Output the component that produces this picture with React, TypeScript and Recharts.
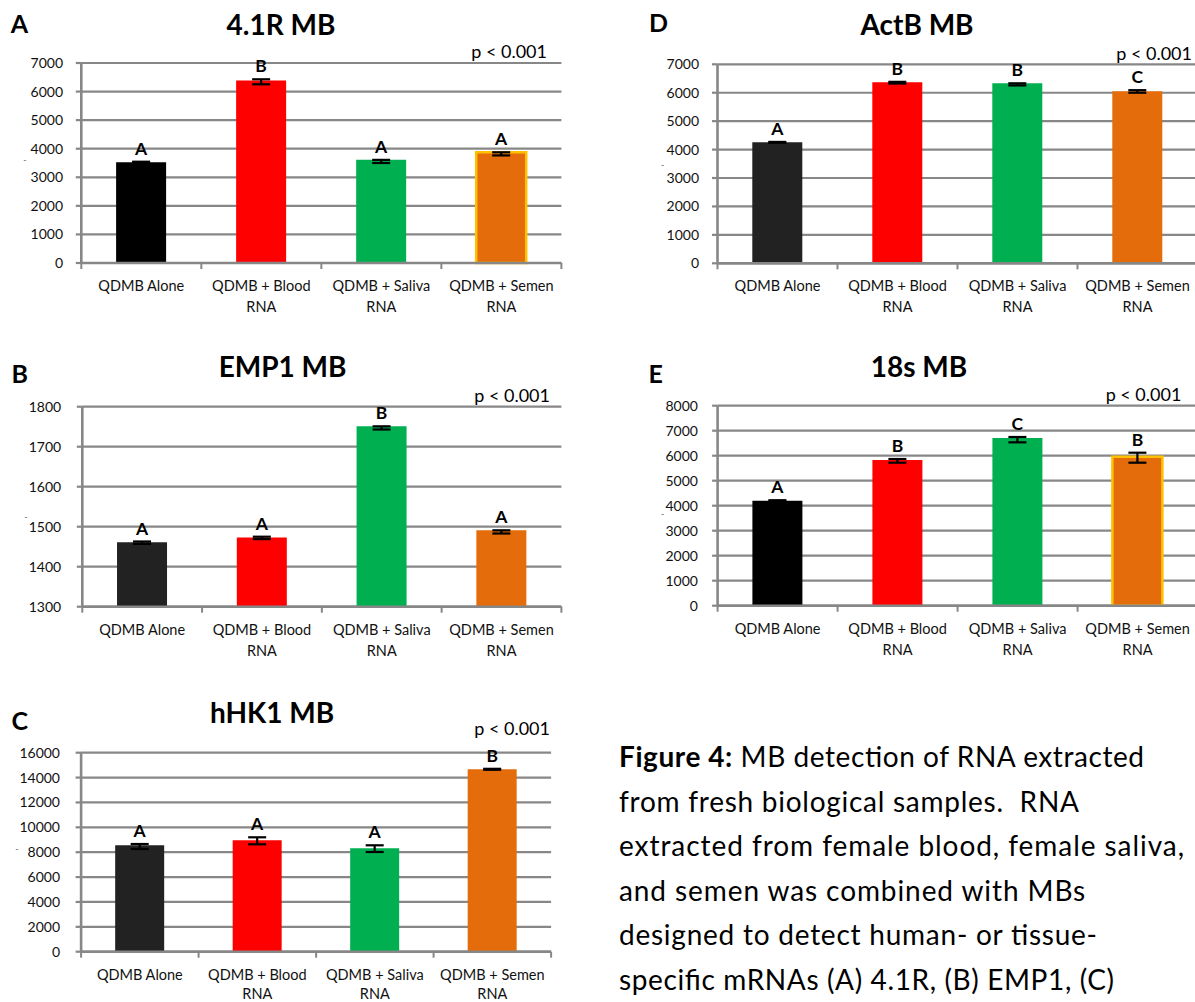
import React from 'react';
import { BarChart, Bar, XAxis, YAxis, CartesianGrid, Cell, ErrorBar, LabelList } from 'recharts';

const categories = ['QDMB Alone', 'QDMB + Blood RNA', 'QDMB + Saliva RNA', 'QDMB + Semen RNA'];

// Panel A: 4.1R MB
const r41Values = [3525, 6385, 3610, 3875];
const r41ErrLow = [20, 130, 110, 110];
const r41ErrHigh = [20, 45, 0, 0];
const r41Letters = ['A', 'B', 'A', 'A'];
const r41Ticks = [0, 1000, 2000, 3000, 4000, 5000, 6000, 7000];

// Panel B: EMP1 MB
const empValues = [1461, 1473, 1751, 1491];
const empErrLow = [4, 4, 8, 8];
const empErrHigh = [2, 2, 0, 0];
const empLetters = ['A', 'A', 'B', 'A'];
const empTicks = [1300, 1400, 1500, 1600, 1700, 1800];

// Panel C: hHK1 MB
const hk1Values = [8555, 8957, 8313, 14665];
const hk1ErrLow = [298, 322, 297, 40];
const hk1ErrHigh = [104, 241, 242, 40];
const hk1Letters = ['A', 'A', 'A', 'B'];
const hk1Ticks = [0, 2000, 4000, 6000, 8000, 10000, 12000, 14000, 16000];

// Panel D: ActB MB
const actbValues = [4255, 6368, 6332, 6050];
const actbErrLow = [15, 45, 75, 50];
const actbErrHigh = [15, 15, 0, 40];
const actbLetters = ['A', 'B', 'B', 'C'];
const actbTicks = [0, 1000, 2000, 3000, 4000, 5000, 6000, 7000];

// Panel E: 18s MB
const s18Values = [4200, 5828, 6708, 5960];
const s18ErrLow = [20, 108, 173, 240];
const s18ErrHigh = [20, 40, 40, 160];
const s18Letters = ['A', 'B', 'C', 'B'];
const s18Ticks = [0, 1000, 2000, 3000, 4000, 5000, 6000, 7000, 8000];

const pValueText = 'p < 0.001';

const FONT = "Lato, 'Open Sans', sans-serif";
const GRID = '#878787';
const RED = '#FF0000';
const GREEN = '#00B050';
const ORANGE = '#E46C0A';
const GOLD = '#FFC000';

type PanelCfg = {
  left: number; top: number; width: number; height: number;
  plotTop: number; plotBottom: number; yAxisWidth: number; plotRight: number;
  tickMargin: number; lineGap: number;
  values: number[]; errLow: number[]; errHigh: number[]; letters: string[];
  ticks: number[];
  fills: string[]; strokes: (string | null)[];
};

const splitLabel = (s: string): string[] => {
  const idx = s.indexOf(' RNA');
  if (idx < 0) return [s];
  return [s.slice(0, idx), 'RNA'];
};

const Panel = ({ cfg }: { cfg: PanelCfg }) => {
  const data = categories.map((c, i) => ({
    name: c,
    value: cfg.values[i],
    err: [cfg.errLow[i], cfg.errHigh[i]],
    letter: cfg.letters[i],
  }));
  const plotW = cfg.plotRight - cfg.yAxisWidth;
  const bw = plotW / categories.length;
  const plotH = cfg.plotBottom - cfg.plotTop;
  const dMin = cfg.ticks[0];
  const dMax = cfg.ticks[cfg.ticks.length - 1];
  const pxPerUnit = plotH / (dMax - dMin);

  const XTick = (props: any) => {
    const { x, y, payload, index } = props;
    const lines = splitLabel(String(payload.value));
    return (
      <g>
        <line x1={x - bw / 2} x2={x - bw / 2} y1={y} y2={y + 6} stroke={GRID} strokeWidth={2} />
        {index === categories.length - 1 && (
          <line x1={x + bw / 2} x2={x + bw / 2} y1={y} y2={y + 6} stroke={GRID} strokeWidth={2} />
        )}
        {lines.map((l, i) => (
          <text key={i} x={x} y={y + 28 + i * cfg.lineGap} textAnchor="middle" fontSize={14.5} fontFamily={FONT} fill="#111">
            {l}
          </text>
        ))}
      </g>
    );
  };

  const LetterLabel = (p: any) => {
    const { x, y, width, value, index } = p;
    const hiPx = cfg.errHigh[index] * pxPerUnit;
    return (
      <text x={x + width / 2} y={y - hiPx - 7} textAnchor="middle" fontSize={17.5} fontWeight="bold" fontFamily={FONT} fill="#000">
        {value}
      </text>
    );
  };

  return (
    <div style={{ position: 'absolute', left: cfg.left, top: cfg.top }}>
      <BarChart
        width={cfg.width}
        height={cfg.height}
        data={data}
        margin={{ top: cfg.plotTop, right: cfg.width - cfg.plotRight, left: 0, bottom: 0 }}
        barCategoryGap="29%"
        style={{ overflow: 'visible' }}
      >
        <CartesianGrid vertical={false} stroke={GRID} strokeWidth={2.2} />
        <XAxis
          dataKey="name"
          height={cfg.height - cfg.plotBottom}
          axisLine={{ stroke: GRID, strokeWidth: 2.6 }}
          tickLine={false}
          tickSize={0}
          tickMargin={0}
          interval={0}
          tick={<XTick />}
        />
        <YAxis
          width={cfg.yAxisWidth}
          domain={[dMin, dMax]}
          ticks={cfg.ticks}
          interval={0}
          axisLine={{ stroke: GRID, strokeWidth: 2.6 }}
          tickLine={{ stroke: GRID, strokeWidth: 2.2 }}
          tickSize={5.5}
          tickMargin={cfg.tickMargin}
          tick={{ fontSize: 14, fill: '#111', fontFamily: FONT }}
        />
        <Bar dataKey="value" isAnimationActive={false}>
          {data.map((d, i) => (
            <Cell
              key={i}
              fill={cfg.fills[i]}
              stroke={cfg.strokes[i] || 'none'}
              strokeWidth={cfg.strokes[i] ? 2.5 : 0}
            />
          ))}
          <ErrorBar dataKey="err" width={9} strokeWidth={2.2} stroke="#000" direction="y" />
          <LabelList dataKey="letter" content={<LetterLabel />} />
        </Bar>
      </BarChart>
    </div>
  );
};

const panelA: PanelCfg = {
  left: 0, top: 0, width: 565, height: 330,
  plotTop: 63, plotBottom: 263, yAxisWidth: 81.3, plotRight: 561.4, tickMargin: 12.8, lineGap: 21,
  values: r41Values, errLow: r41ErrLow, errHigh: r41ErrHigh, letters: r41Letters, ticks: r41Ticks,
  fills: ['#000000', RED, GREEN, ORANGE], strokes: [null, null, null, GOLD],
};
const panelB: PanelCfg = {
  left: 0, top: 340, width: 565, height: 330,
  plotTop: 66.7, plotBottom: 266.7, yAxisWidth: 82.3, plotRight: 561.4, tickMargin: 15.6, lineGap: 21,
  values: empValues, errLow: empErrLow, errHigh: empErrHigh, letters: empLetters, ticks: empTicks,
  fills: ['#222222', RED, GREEN, ORANGE], strokes: [null, null, null, null],
};
const panelC: PanelCfg = {
  left: 0, top: 690, width: 555, height: 312,
  plotTop: 62.7, plotBottom: 261.7, yAxisWidth: 81.1, plotRight: 551.1, tickMargin: 15.6, lineGap: 19,
  values: hk1Values, errLow: hk1ErrLow, errHigh: hk1ErrHigh, letters: hk1Letters, ticks: hk1Ticks,
  fills: ['#222222', RED, GREEN, ORANGE], strokes: [null, null, null, null],
};
const panelD: PanelCfg = {
  left: 600, top: 0, width: 600, height: 330,
  plotTop: 64.3, plotBottom: 263.3, yAxisWidth: 117.5, plotRight: 597.5, tickMargin: 13, lineGap: 21,
  values: actbValues, errLow: actbErrLow, errHigh: actbErrHigh, letters: actbLetters, ticks: actbTicks,
  fills: ['#222222', RED, GREEN, ORANGE], strokes: [null, null, null, null],
};
const panelE: PanelCfg = {
  left: 600, top: 340, width: 600, height: 330,
  plotTop: 65.7, plotBottom: 265.7, yAxisWidth: 117.6, plotRight: 597.6, tickMargin: 14.2, lineGap: 21,
  values: s18Values, errLow: s18ErrLow, errHigh: s18ErrHigh, letters: s18Letters, ticks: s18Ticks,
  fills: ['#000000', RED, GREEN, ORANGE], strokes: [null, null, null, GOLD],
};

const panelLetters = [
  { t: 'A', x: 10.7, y: 33 },
  { t: 'D', x: 649, y: 32 },
  { t: 'B', x: 11.5, y: 383 },
  { t: 'E', x: 648.6, y: 383 },
  { t: 'C', x: 11.5, y: 730 },
];
const titles = [
  { t: '4.1R MB', x: 281, y: 34.5 },
  { t: 'ActB MB', x: 917, y: 35 },
  { t: 'EMP1 MB', x: 282.6, y: 377 },
  { t: '18s MB', x: 919, y: 377 },
  { t: 'hHK1 MB', x: 272, y: 723 },
];
const pLabels = [
  { x: 547, y: 58 },
  { x: 1192, y: 60 },
  { x: 550, y: 401.5 },
  { x: 1181.4, y: 401 },
  { x: 550, y: 735 },
];
const dashes = [
  { x: 25, y: 163 },
  { x: 662.6, y: 168 },
  { x: 26, y: 520 },
  { x: 662.6, y: 517 },
  { x: 17, y: 852 },
];
const captionLead = 'Figure 4:';
const captionLines = [
  'MB detection of RNA extracted',
  'from fresh biological samples.  RNA',
  'extracted from female blood, female saliva,',
  'and semen was combined with MBs',
  'designed to detect human- or tissue-',
  'specific mRNAs (A) 4.1R, (B) EMP1, (C)',
];
const captionWidths = [525, 460, 565, 466, 478, 495];

export default function App() {
  return (
    <div style={{ position: 'absolute', left: 0, top: 0, width: 1195, height: 1002, overflow: 'hidden', background: '#fff' }}>
      <Panel cfg={panelA} />
      <Panel cfg={panelB} />
      <Panel cfg={panelC} />
      <Panel cfg={panelD} />
      <Panel cfg={panelE} />
      <svg width={1195} height={1002} style={{ position: 'absolute', left: 0, top: 0, pointerEvents: 'none' }}>
        {panelLetters.map((p, i) => (
          <text key={'l' + i} x={p.x} y={p.y} fontSize={25} fontWeight="bold" fontFamily={FONT} fill="#000">{p.t}</text>
        ))}
        {titles.map((p, i) => (
          <text key={'t' + i} x={p.x} y={p.y} textAnchor="middle" fontSize={28} fontWeight="bold" fontFamily={FONT} fill="#000">{p.t}</text>
        ))}
        {pLabels.map((p, i) => (
          <text key={'p' + i} x={p.x} y={p.y} textAnchor="end" fontSize={18} fontFamily={FONT} fill="#000">{pValueText}</text>
        ))}
        {dashes.map((p, i) => (
          <text key={'d' + i} x={p.x} y={p.y} textAnchor="middle" fontSize={9} fontFamily={FONT} fill="#666">-</text>
        ))}
        {captionLines.map((l, i) => (
          <text
            key={'c' + i}
            x={619}
            y={767 + i * 44.6}
            fontSize={28}
            fontFamily={FONT}
            fill="#000"
            textLength={captionWidths[i]}
            lengthAdjust="spacing"
            style={{ whiteSpace: 'pre' }}
          >
            {i === 0 ? (
              <>
                <tspan fontWeight="bold">{captionLead}</tspan>
                <tspan> {l}</tspan>
              </>
            ) : (
              l
            )}
          </text>
        ))}
      </svg>
    </div>
  );
}
